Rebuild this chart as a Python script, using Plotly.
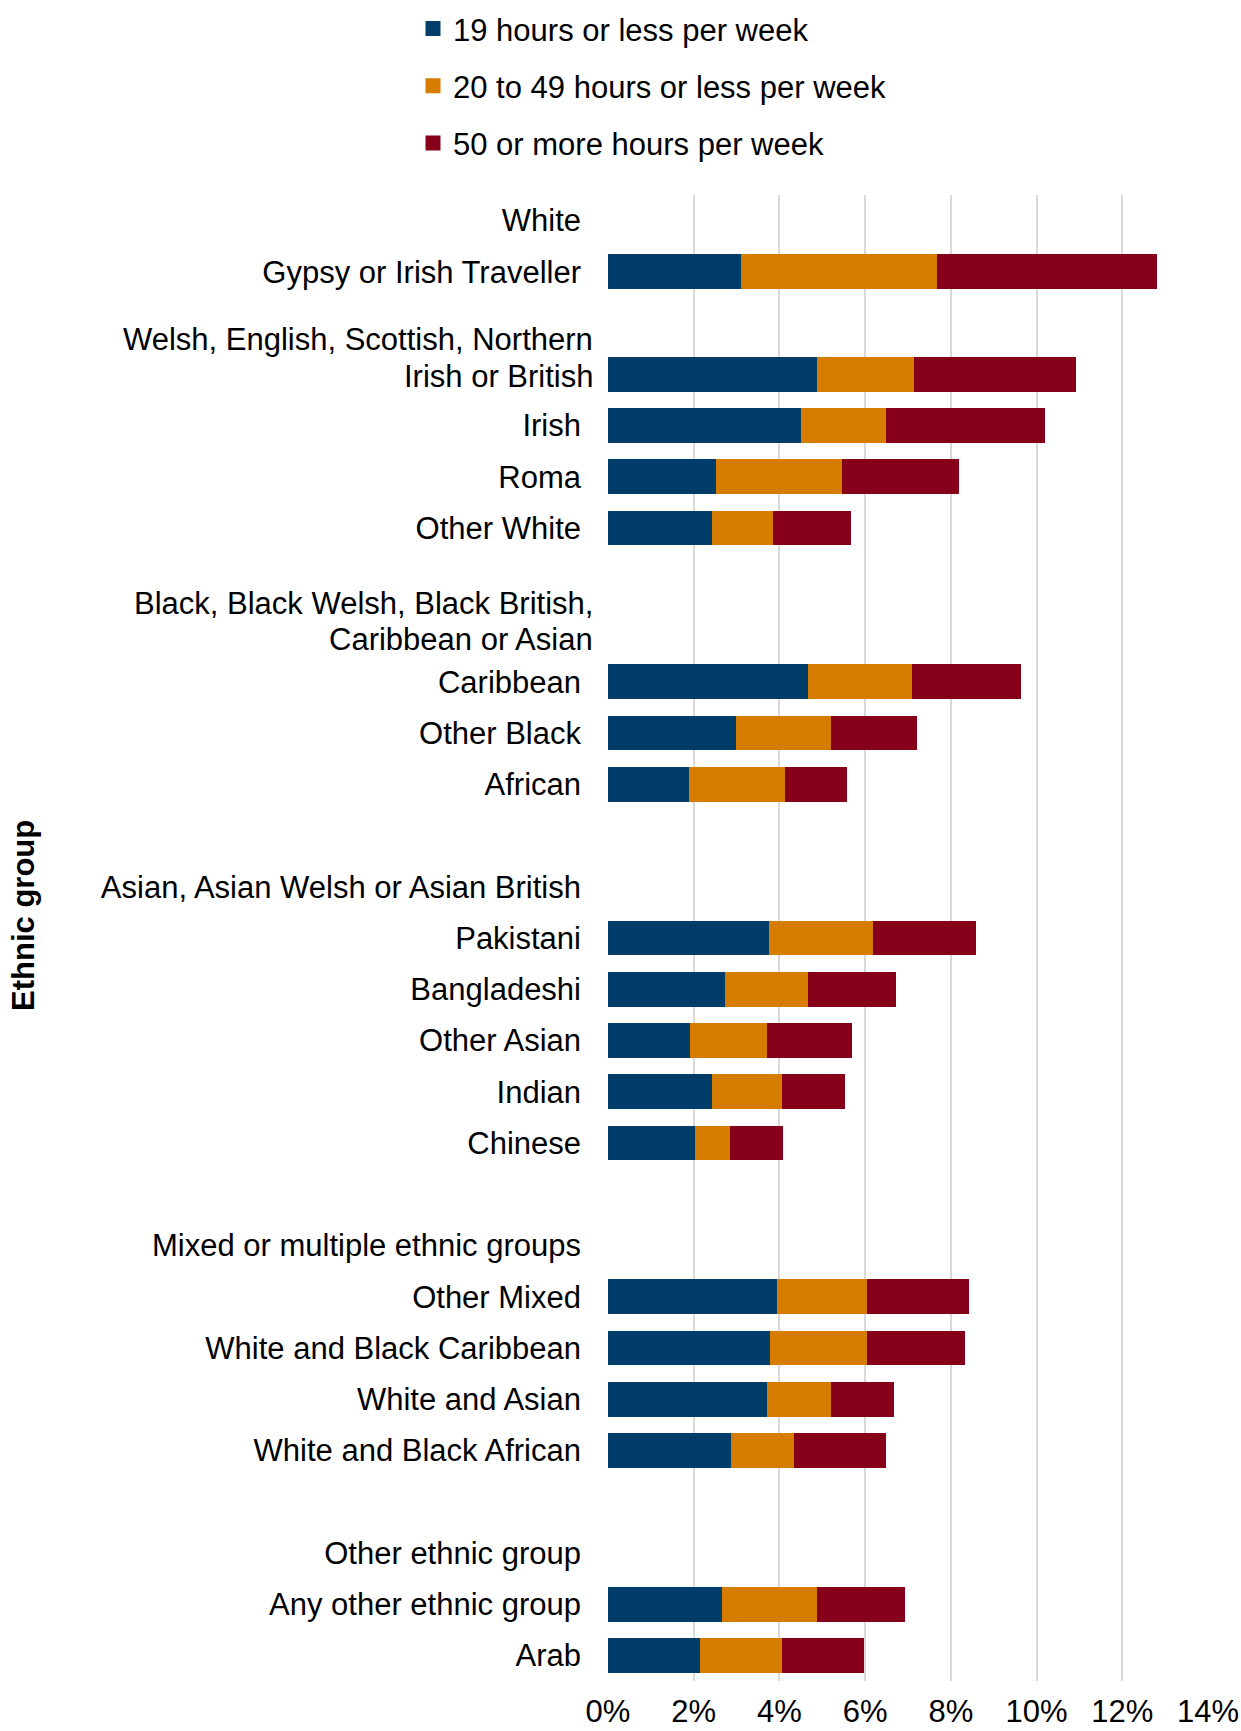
import plotly.graph_objects as go

# rows top to bottom; "gap_*" rows are empty spacer rows, headers have no bars
rows = [
    "White", "Gypsy or Irish Traveller", "gap_white",
    "Welsh, English, Scottish, Northern Irish or British", "Irish", "Roma", "Other White",
    "gap_black", "Black, Black Welsh, Black British, Caribbean or Asian",
    "Caribbean", "Other Black", "African",
    "gap_asian", "Asian, Asian Welsh or Asian British",
    "Pakistani", "Bangladeshi", "Other Asian", "Indian", "Chinese",
    "gap_mixed", "Mixed or multiple ethnic groups",
    "Other Mixed", "White and Black Caribbean", "White and Asian", "White and Black African",
    "gap_other", "Other ethnic group", "Any other ethnic group", "Arab",
]

tick_labels = [
    "White", "Gypsy or Irish Traveller", "",
    "", "Irish", "Roma", "Other White",
    "", "",
    "Caribbean", "Other Black", "African",
    "", "Asian, Asian Welsh or Asian British",
    "Pakistani", "Bangladeshi", "Other Asian", "Indian", "Chinese",
    "", "Mixed or multiple ethnic groups",
    "Other Mixed", "White and Black Caribbean", "White and Asian", "White and Black African",
    "", "Other ethnic group", "Any other ethnic group", "Arab",
]

# wrapped labels: (row, line text, vertical shift in px)
wrapped_labels = [
    ("Welsh, English, Scottish, Northern Irish or British", "Welsh, English, Scottish, Northern", 35),
    ("Welsh, English, Scottish, Northern Irish or British", "Irish or British", -2),
    ("Black, Black Welsh, Black British, Caribbean or Asian", "Black, Black Welsh, Black British,", 27),
    ("Black, Black Welsh, Black British, Caribbean or Asian", "Caribbean or Asian", -9),
]

series_names = [
    "19 hours or less per week",
    "20 to 49 hours or less per week",
    "50 or more hours per week",
]

hours_19_or_less = [None, 3.10, None, 4.88, 4.50, 2.52, 2.42, None, None, 4.67, 2.98, 1.88,
                    None, None, 3.75, 2.73, 1.91, 2.42, 2.04, None, None, 3.95, 3.78, 3.71, 2.87,
                    None, None, 2.67, 2.14]
hours_20_to_49 = [None, 4.58, None, 2.26, 1.99, 2.93, 1.43, None, None, 2.43, 2.23, 2.25,
                  None, None, 2.43, 1.94, 1.80, 1.63, 0.80, None, None, 2.10, 2.26, 1.50, 1.46,
                  None, None, 2.21, 1.91]
hours_50_plus = [None, 5.13, None, 3.79, 3.70, 2.75, 1.83, None, None, 2.53, 1.99, 1.44,
                 None, None, 2.41, 2.05, 1.99, 1.49, 1.24, None, None, 2.37, 2.30, 1.47, 2.16,
                 None, None, 2.05, 1.92]

colors = ["#003D6B", "#D67D00", "#870019"]
FONT = "Liberation Sans, Arial, sans-serif"

fig = go.Figure()
for i, (name, values) in enumerate(zip(series_names, [hours_19_or_less, hours_20_to_49, hours_50_plus])):
    fig.add_trace(go.Bar(
        x=values,
        y=rows,
        orientation="h",
        name=name,
        legendgroup=str(i),
        showlegend=False,
        marker={"color": colors[i], "line": {"width": 0}},
    ))
    # legend-only entry with a bigger square swatch
    fig.add_trace(go.Scatter(
        x=[None],
        y=[None],
        mode="markers",
        name=name,
        legendgroup=str(i),
        marker={"symbol": "square", "size": 15, "color": colors[i]},
    ))

for row, text, shift in wrapped_labels:
    fig.add_annotation(
        x=0, xref="paper", y=row, yref="y",
        text=text, showarrow=False, xanchor="right",
        xshift=-13, yshift=shift,
        font={"family": FONT, "size": 31, "color": "black"},
    )

fig.add_annotation(
    x=-0.973, xref="paper", y=0.515, yref="paper",
    text="<b>Ethnic group</b>", textangle=-90, showarrow=False,
    xanchor="center", yanchor="middle",
    font={"family": FONT, "size": 31, "color": "black"},
)

fig.update_layout(
    width=1241,
    height=1731,
    barmode="stack",
    bargap=0.32,
    plot_bgcolor="white",
    paper_bgcolor="white",
    font={"family": FONT, "size": 31, "color": "black"},
    margin={"l": 608, "r": 33, "t": 195, "b": 50, "autoexpand": False},
    legend={
        "x": -0.325, "y": 1.13, "xanchor": "left", "yanchor": "top",
        "traceorder": "grouped", "tracegroupgap": 14,
        "font": {"family": FONT, "size": 31, "color": "black"},
    },
    xaxis={
        "range": [0, 14], "dtick": 2, "ticksuffix": "%",
        "showgrid": True, "gridcolor": "#D9D9D9", "gridwidth": 1.5,
        "zeroline": False, "showline": False, "ticks": "",
        "ticklabelstandoff": 9, "ticklabeloverflow": "allow",
        "automargin": False,
    },
    yaxis={
        "type": "category", "categoryorder": "array", "categoryarray": rows,
        "autorange": "reversed",
        "tickmode": "array", "tickvals": rows, "ticktext": tick_labels,
        "showgrid": False, "zeroline": False, "showline": False, "ticks": "",
        "ticklabelstandoff": 26, "automargin": False,
    },
)

# drop the default 8px page margin so the figure fills the window exactly
fig.write_html(
    "out.html",
    config={"displayModeBar": False},
    post_script="document.body.style.margin = '0';",
)
